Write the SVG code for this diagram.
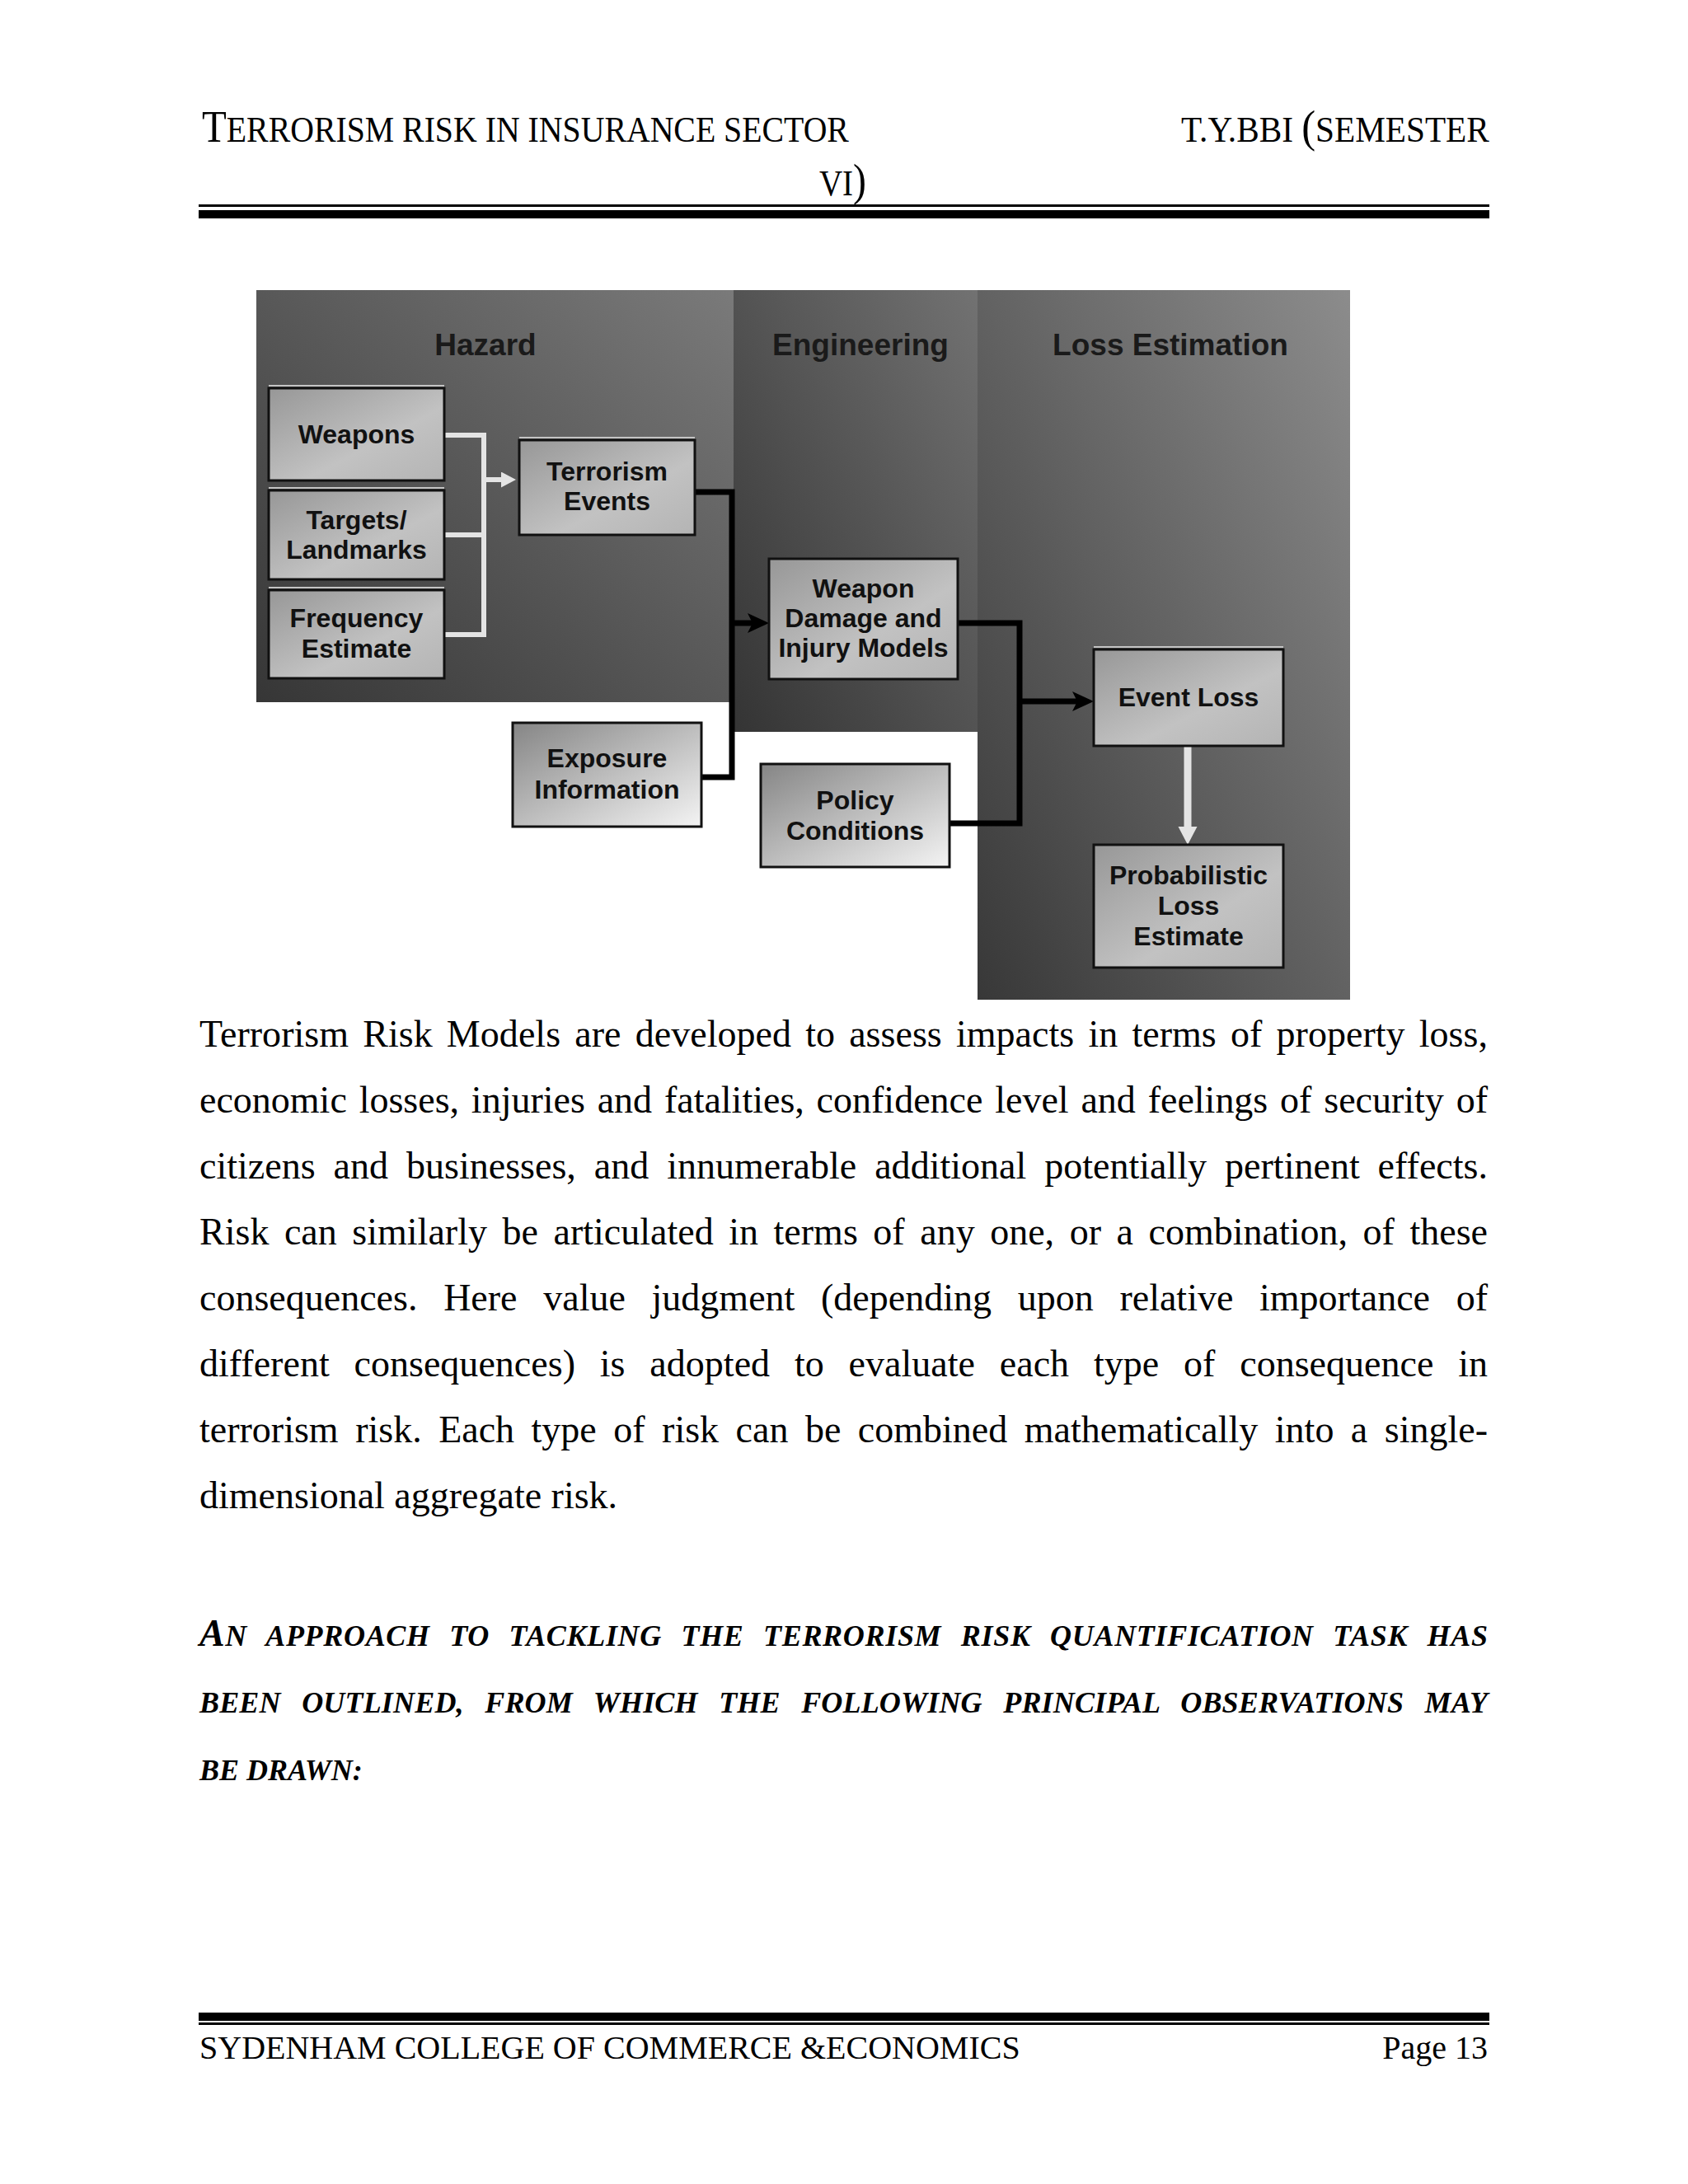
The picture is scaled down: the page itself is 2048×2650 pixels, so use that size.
<svg xmlns="http://www.w3.org/2000/svg" width="2048" height="2650" viewBox="0 0 2048 2650">
<defs>
<style>
.hdr{font-family:"Liberation Serif","Times New Roman",serif;fill:#000}
.body{font-family:"Liberation Serif","Times New Roman",serif;font-size:46px;fill:#000}
.head{font-family:"Liberation Serif","Times New Roman",serif;font-weight:bold;font-style:italic;fill:#000}
.foot{font-family:"Liberation Serif","Times New Roman",serif;font-size:40px;fill:#000}
.title{font-family:"Liberation Sans",Arial,sans-serif;font-weight:bold;font-size:37px;fill:#1a1a1a;text-anchor:middle}
.lbl{font-family:"Liberation Sans",Arial,sans-serif;font-weight:bold;font-size:32px;fill:#111;text-anchor:middle}
.box{fill:url(#boxg);stroke:#111;stroke-width:3}
.boxw{fill:url(#boxw);stroke:#111;stroke-width:3}
.hl{stroke:#c4c4c4;stroke-width:2}
.wline{fill:none;stroke:#e4e4e4;stroke-width:6}
.bline{fill:none;stroke:#000;stroke-width:7}
</style>
<linearGradient id="gHaz" x1="0" y1="1" x2="1" y2="0"><stop offset="0" stop-color="#363636"/><stop offset="1" stop-color="#7a7a7a"/></linearGradient>
<linearGradient id="gEng" x1="0" y1="1" x2="1" y2="0"><stop offset="0" stop-color="#343434"/><stop offset="1" stop-color="#727272"/></linearGradient>
<linearGradient id="gLoss" x1="0" y1="1" x2="1" y2="0"><stop offset="0" stop-color="#383838"/><stop offset="1" stop-color="#8c8c8c"/></linearGradient>
<linearGradient id="boxg" x1="0" y1="0" x2="1" y2="1"><stop offset="0" stop-color="#979797"/><stop offset="0.6" stop-color="#c2c2c2"/><stop offset="1" stop-color="#b4b4b4"/></linearGradient>
<linearGradient id="boxw" x1="0" y1="0" x2="1" y2="1"><stop offset="0" stop-color="#858585"/><stop offset="1" stop-color="#f4f4f4"/></linearGradient>
<marker id="ab" markerUnits="userSpaceOnUse" markerWidth="30" markerHeight="26" refX="14" refY="12" orient="auto"><path d="M0,0 L26,12 L0,24 L6,12 Z" fill="#000"/></marker>
<marker id="aw" markerUnits="userSpaceOnUse" markerWidth="22" markerHeight="22" refX="10" refY="9.5" orient="auto"><path d="M0,0 L18,9.5 L0,19 Z" fill="#e4e4e4"/></marker>
<marker id="awd" markerUnits="userSpaceOnUse" markerWidth="26" markerHeight="26" refX="12" refY="11.5" orient="auto"><path d="M0,0 L22,11.5 L0,23 Z" fill="#e4e4e4"/></marker>
</defs>
<rect width="2048" height="2650" fill="#fff"/>

<g id="header">
<text class="hdr" transform="translate(245,172) scale(0.904,1)" x="0" y="0"><tspan font-size="54">T</tspan><tspan font-size="44">ERRORISM RISK IN INSURANCE SECTOR</tspan></text>
<text class="hdr" transform="translate(1433,172) scale(0.937,1)" x="0" y="0"><tspan font-size="44">T.Y.BBI </tspan><tspan font-size="54">(</tspan><tspan font-size="44">SEMESTER</tspan></text>
<text class="hdr" transform="translate(994,237) scale(0.885,1)" x="0" y="0"><tspan font-size="44">VI</tspan><tspan font-size="54">)</tspan></text>
<rect x="241" y="248" width="1566" height="3" fill="#000"/>
<rect x="241" y="255" width="1566" height="10" fill="#000"/>
</g>

<g id="lanes">
<rect id="lane-hazard" x="311" y="352" width="579" height="500" fill="url(#gHaz)"/>
<rect id="lane-engineering" x="890" y="352" width="296" height="536" fill="url(#gEng)"/>
<rect id="lane-loss" x="1186" y="352" width="452" height="861" fill="url(#gLoss)"/>
<text class="title" x="589" y="431">Hazard</text>
<text class="title" x="1044" y="431">Engineering</text>
<text class="title" x="1420" y="431">Loss Estimation</text>
</g>

<g id="connectors">
<path class="wline" d="M539,528 H587 V770 H539"/>
<path class="wline" d="M539,649 H587"/>
<path class="wline" d="M587,582 H618" marker-end="url(#aw)"/>
<path class="bline" d="M843,597 H888 V943 H851"/>
<path class="bline" d="M888,756 H921" marker-end="url(#ab)"/>
<path class="bline" d="M1162,756 H1237 V999 H1152"/>
<path class="bline" d="M1237,851 H1315" marker-end="url(#ab)"/>
<path d="M1441,905 V1015" fill="none" stroke="#e4e4e4" stroke-width="9" marker-end="url(#awd)"/>
</g>

<g id="node-weapons">
<line class="hl" x1="326" y1="468" x2="539" y2="468"/>
<rect class="box" x="326" y="471" width="213" height="112"/>
<text class="lbl" x="432.5" y="538">Weapons</text>
</g>
<g id="node-targets">
<line class="hl" x1="326" y1="592" x2="539" y2="592"/>
<rect class="box" x="326" y="595" width="213" height="108"/>
<text class="lbl" x="432.5" y="642">Targets/</text>
<text class="lbl" x="432.5" y="678">Landmarks</text>
</g>
<g id="node-frequency">
<line class="hl" x1="326" y1="713" x2="539" y2="713"/>
<rect class="box" x="326" y="716" width="213" height="107"/>
<text class="lbl" x="432.5" y="761">Frequency</text>
<text class="lbl" x="432.5" y="798">Estimate</text>
</g>
<g id="node-terrorism-events">
<line class="hl" x1="630" y1="531" x2="843" y2="531"/>
<rect class="box" x="630" y="534" width="213" height="115"/>
<text class="lbl" x="736.5" y="583">Terrorism</text>
<text class="lbl" x="736.5" y="619">Events</text>
</g>
<g id="node-weapon-damage">
<rect class="box" x="933" y="678" width="229" height="146"/>
<text class="lbl" x="1047.5" y="725">Weapon</text>
<text class="lbl" x="1047.5" y="761">Damage and</text>
<text class="lbl" x="1047.5" y="797">Injury Models</text>
</g>
<g id="node-exposure">
<rect class="boxw" x="622" y="877" width="229" height="126"/>
<text class="lbl" x="736.5" y="931">Exposure</text>
<text class="lbl" x="736.5" y="969">Information</text>
</g>
<g id="node-policy">
<rect class="boxw" x="923" y="927" width="229" height="125"/>
<text class="lbl" x="1037.5" y="982">Policy</text>
<text class="lbl" x="1037.5" y="1019">Conditions</text>
</g>
<g id="node-event-loss">
<line class="hl" x1="1327" y1="785" x2="1557" y2="785"/>
<rect class="box" x="1327" y="788" width="230" height="117"/>
<text class="lbl" x="1442" y="857">Event Loss</text>
</g>
<g id="node-probabilistic">
<rect class="box" x="1327" y="1025" width="230" height="149"/>
<text class="lbl" x="1442" y="1073">Probabilistic</text>
<text class="lbl" x="1442" y="1110">Loss</text>
<text class="lbl" x="1442" y="1147">Estimate</text>
</g>

<g id="body-text">
<text class="body" x="242" y="1270" word-spacing="5.6" textLength="1563" lengthAdjust="spacing">Terrorism Risk Models are developed to assess impacts in terms of property loss,</text>
<text class="body" x="242" y="1350" word-spacing="3.3" textLength="1563" lengthAdjust="spacing">economic losses, injuries and fatalities, confidence level and feelings of security of</text>
<text class="body" x="242" y="1430" word-spacing="10.4" textLength="1563" lengthAdjust="spacing">citizens and businesses, and innumerable additional potentially pertinent effects.</text>
<text class="body" x="242" y="1510" word-spacing="7" textLength="1563" lengthAdjust="spacing">Risk can similarly be articulated in terms of any one, or a combination, of these</text>
<text class="body" x="242" y="1590" word-spacing="20.2" textLength="1563" lengthAdjust="spacing">consequences. Here value judgment (depending upon relative importance of</text>
<text class="body" x="242" y="1670" word-spacing="18.3" textLength="1563" lengthAdjust="spacing">different consequences) is adopted to evaluate each type of consequence in</text>
<text class="body" x="242" y="1750" word-spacing="9" textLength="1563" lengthAdjust="spacing">terrorism risk. Each type of risk can be combined mathematically into a single-</text>
<text class="body" x="242" y="1830">dimensional aggregate risk.</text>
</g>

<g id="heading-text">
<text class="head" x="242" y="1997" word-spacing="13.8" textLength="1563" lengthAdjust="spacing"><tspan font-size="46">A</tspan><tspan font-size="36">N APPROACH TO TACKLING THE TERRORISM RISK QUANTIFICATION TASK HAS</tspan></text>
<text class="head" x="242" y="2078" font-size="36" word-spacing="16.3" textLength="1563" lengthAdjust="spacing">BEEN OUTLINED, FROM WHICH THE FOLLOWING PRINCIPAL OBSERVATIONS MAY</text>
<text class="head" x="242" y="2160" font-size="36">BE DRAWN:</text>
</g>

<g id="footer">
<rect x="241" y="2442" width="1566" height="10" fill="#000"/>
<rect x="241" y="2454" width="1566" height="3" fill="#000"/>
<text class="foot" x="242" y="2498">SYDENHAM COLLEGE OF COMMERCE &amp;ECONOMICS</text>
<text class="foot" x="1805" y="2498" text-anchor="end">Page 13</text>
</g>
</svg>
